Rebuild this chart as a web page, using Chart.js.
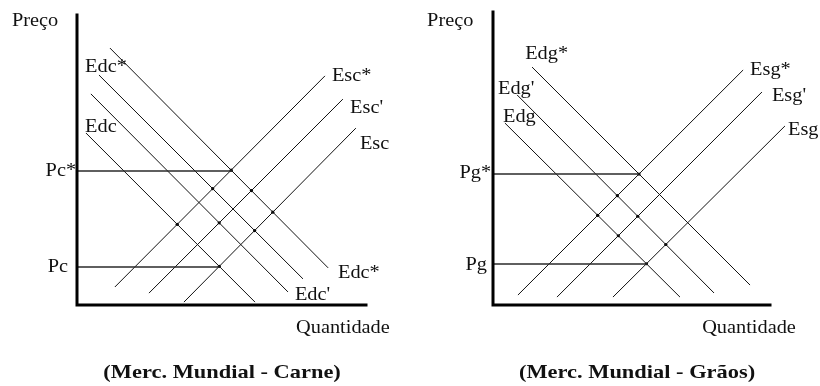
<!DOCTYPE html>
<html>
<head>
<meta charset="utf-8">
<script src="https://cdn.jsdelivr.net/npm/chart.js@4/dist/chart.umd.min.js"></script>
<style>
  html, body { margin: 0; padding: 0; background: #fff; }
  #wrap { position: relative; width: 820px; height: 386px; }
  canvas { position: absolute; top: 0; }
</style>
</head>
<body>
<div id="wrap">
  <canvas id="carne" width="410" height="386" style="left:0"></canvas>
  <canvas id="graos" width="410" height="386" style="left:410px"></canvas>
</div>
<script>
// ---------- DATA (abstract units: quantity 0..10, price 0..10) ----------
// Meat market (Carne): demand curves, each [[q0,p0],[q1,p1]]
const Edc      = [[0.31, 5.93], [6.16, 0.10]];
const EdcMid   = [[0.48, 7.28], [7.30, 0.45]];   // labelled Edc' at its end
const EdcUpper = [[0.76, 7.93], [7.82, 0.90]];
const EdcStar  = [[1.14, 8.86], [8.69, 1.28]];
// Meat market supply curves
const EscStar  = [[1.31, 0.62], [8.58, 7.90]];
const EscPrime = [[2.49, 0.41], [9.20, 7.10]];
const Esc      = [[3.70, 0.10], [9.65, 6.10]];
// Meat prices: [price, quantity where the guide line ends]
const carnePrices = [4.62, 1.31];
const carnePriceEnds = [5.36, 4.91];
const carnePriceLabels = ["Pc*", "Pc"];

// Grain market (Grãos) demand curves
const Edg      = [[0.43, 6.21], [6.75, 0.27]];
const EdgPrime = [[0.87, 7.17], [7.98, 0.41]];
const EdgStar  = [[1.41, 8.12], [9.28, 0.68]];
// Grain supply curves
const EsgStar  = [[0.90, 0.34], [9.03, 8.02]];
const EsgPrime = [[2.31, 0.27], [9.71, 7.27]];
const Esg      = [[4.33, 0.27], [10.54, 6.11]];
// Grain prices
const graosPrices = [4.47, 1.40];
const graosPriceEnds = [5.25, 5.56];
const graosPriceLabels = ["Pg*", "Pg"];

// ---------- helpers ----------
function toPts(seg) { return seg.map(p => ({x: p[0], y: p[1]})); }
function intersect(a, b) {
  const [x1, y1] = a[0], [x2, y2] = a[1], [x3, y3] = b[0], [x4, y4] = b[1];
  const d = (x1 - x2) * (y3 - y4) - (y1 - y2) * (x3 - x4);
  const t = ((x1 - x3) * (y3 - y4) - (y1 - y3) * (x3 - x4)) / d;
  return {x: x1 + t * (x2 - x1), y: y1 + t * (y2 - y1)};
}

const SERIF = "'Liberation Serif', 'DejaVu Serif', serif";

const textPlugin = {
  id: 'texts',
  afterDatasetsDraw(chart, args, opts) {
    const ctx = chart.ctx, xs = chart.scales.x, ys = chart.scales.y;
    for (const t of opts.items) {
      const px = xs.getPixelForValue(t.q), py = ys.getPixelForValue(t.p);
      ctx.save();
      ctx.fillStyle = '#111';
      ctx.font = (t.bold ? 'bold ' : '') + t.size + 'px ' + SERIF;
      ctx.textBaseline = 'alphabetic';
      ctx.textAlign = t.align || 'left';
      ctx.translate(px, py);
      ctx.scale(t.sx || 1.13, 1);
      ctx.fillText(t.text, 0, 0);
      ctx.restore();
    }
  }
};

function makeChart(id, curves, dotPairs, prices, priceEnds, priceLabels, texts, padding) {
  const datasets = [];
  // axes
  datasets.push({data: toPts([[0, 10], [0, 0], [10, 0]]), borderColor: '#000', borderWidth: 3,
                 borderCapStyle: 'square', borderJoinStyle: 'miter'});
  // price guide lines
  prices.forEach((p, i) => {
    datasets.push({data: toPts([[0, p], [priceEnds[i], p]]), borderColor: '#2a2a2a', borderWidth: 1.6});
  });
  // demand / supply curves
  curves.forEach(c => datasets.push({data: toPts(c), borderColor: '#111', borderWidth: 1}));
  // intersection dots
  datasets.push({data: dotPairs.map(([a, b]) => intersect(a, b)), showLine: false,
                 pointRadius: 1.6, pointBackgroundColor: '#000', pointBorderWidth: 0});
  datasets.forEach(d => { d.clip = false; if (d.showLine === undefined) { d.showLine = true; d.pointRadius = 0; } d.fill = false; });

  const items = texts.slice();
  return new Chart(document.getElementById(id), {
    type: 'scatter',
    data: {datasets},
    options: {
      responsive: false, animation: false,
      layout: {padding},
      plugins: {legend: {display: false}, tooltip: {enabled: false}, texts: {items}},
      scales: {
        x: {type: 'linear', min: 0, max: 10, display: false},
        y: {type: 'linear', min: 0, max: 10, display: false}
      },
      elements: {line: {tension: 0}}
    },
    plugins: [textPlugin]
  });
}

const N = 18;
makeChart('carne',
  [Edc, EdcMid, EdcUpper, EdcStar, EscStar, EscPrime, Esc],
  [[Edc, EscStar], [Edc, Esc], [EdcMid, EscPrime], [EdcUpper, EscStar], [EdcUpper, Esc],
   [EdcStar, EscPrime], [EdcStar, EscStar], [EdcStar, Esc]],
  carnePrices, carnePriceEnds, carnePriceLabels,
  [
    {text: 'Preço', q: -2.25, p: 9.62, size: N},
    {text: 'Edc*', q: 0.28, p: 8.03, size: N},
    {text: 'Edc', q: 0.28, p: 5.97, size: N},
    {text: 'Edc*', q: 9.03, p: 0.93, size: N},
    {text: "Edc'", q: 7.54, p: 0.17, size: N},
    {text: 'Esc*', q: 8.82, p: 7.72, size: N},
    {text: "Esc'", q: 9.45, p: 6.62, size: N},
    {text: 'Esc', q: 9.79, p: 5.38, size: N},
    {text: carnePriceLabels[0], q: -0.03, p: 4.45, size: N, align: 'right'},
    {text: carnePriceLabels[1], q: -0.31, p: 1.14, size: N, align: 'right'},
    {text: 'Quantidade', q: 7.58, p: -0.97, size: N},
    {text: '(Merc. Mundial - Carne)', q: 5.02, p: -2.52, size: 19, bold: true, align: 'center', sx: 1.18}
  ],
  {left: 77, right: 44, top: 15, bottom: 81});

makeChart('graos',
  [Edg, EdgPrime, EdgStar, EsgStar, EsgPrime, Esg],
  [[Edg, EsgStar], [EdgPrime, EsgStar], [Edg, EsgPrime], [EdgPrime, EsgPrime], [EdgPrime, Esg],
   [EdgStar, EsgStar], [Edg, Esg]],
  graosPrices, graosPriceEnds, graosPriceLabels,
  [
    {text: 'Preço', q: -2.38, p: 9.52, size: N},
    {text: 'Edg*', q: 1.16, p: 8.40, size: N},
    {text: "Edg'", q: 0.18, p: 7.20, size: N},
    {text: 'Edg', q: 0.36, p: 6.25, size: N},
    {text: 'Esg*', q: 9.28, p: 7.85, size: N},
    {text: "Esg'", q: 10.07, p: 6.96, size: N},
    {text: 'Esg', q: 10.65, p: 5.80, size: N},
    {text: graosPriceLabels[0], q: -0.07, p: 4.33, size: N, align: 'right'},
    {text: graosPriceLabels[1], q: -0.22, p: 1.19, size: N, align: 'right'},
    {text: 'Quantidade', q: 7.55, p: -0.96, size: N},
    {text: '(Merc. Mundial - Grãos)', q: 5.2, p: -2.49, size: 19, bold: true, align: 'center', sx: 1.18}
  ],
  {left: 83, right: 50, top: 12, bottom: 81});
</script>
</body>
</html>
